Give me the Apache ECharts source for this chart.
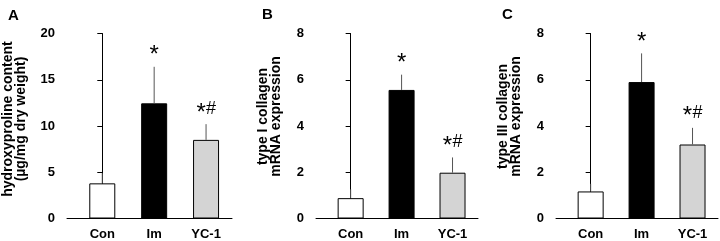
<!DOCTYPE html>
<html>
<head>
<meta charset="utf-8">
<script src="https://cdn.jsdelivr.net/npm/echarts@6/dist/echarts.min.js"></script>
<style>
	html, body { margin: 0; padding: 0; background: #fff; }
	#chart { width: 720px; height: 241px; }
</style>
</head>
<body>
<div id="chart"></div>
<script>
	// groups on the x axis
	const groups = ['Con', 'Im', 'YC-1']
	const barColors = ['#ffffff', '#000000', '#d4d4d4']
	const sigMarks = ['', '*', '*#']

	// A: hydroxyproline content (µg/mg dry weight)
	const hypMean = [3.8, 12.45, 8.5]
	const hypErr = [1.1, 3.95, 1.7]
	// B: type I collagen mRNA expression
	const col1Mean = [0.88, 5.56, 1.98]
	const col1Err = [0.38, 0.66, 0.66]
	// C: type III collagen mRNA expression
	const col3Mean = [1.17, 5.9, 3.2]
	const col3Err = [0.33, 1.24, 0.72]

	const font = 'Liberation Sans, Arial, sans-serif'

	const panels = [
		{ letter: 'A', name: 'hydroxyproline content\n(µg/mg dry weight)', mean: hypMean, err: hypErr, max: 20, step: 5, left: 67, width: 165, nameGap: 39, lift: 14 },
		{ letter: 'B', name: 'type I collagen\nmRNA expression', mean: col1Mean, err: col1Err, max: 8, step: 2, left: 316, width: 162, nameGap: 33, lift: 19 },
		{ letter: 'C', name: 'type III collagen\nmRNA expression', mean: col3Mean, err: col3Err, max: 8, step: 2, left: 556, width: 162, nameGap: 33, lift: 19 }
	]

	const chart = echarts.init(document.getElementById('chart'))

	const option = {
		animation: false,
		backgroundColor: '#fff',
		title: panels.map((p, i) => ({
			text: p.letter,
			left: [3, 257, 497][i],
			top: [3, 2, 2][i],
			textStyle: { fontFamily: font, fontWeight: 'bold', fontSize: 15, color: '#000' }
		})),
		grid: panels.map((p) => ({
			left: p.left,
			width: p.width,
			top: 33.5,
			height: 185
		})),
		xAxis: panels.map((p, i) => ({
			type: 'value',
			gridIndex: i,
			min: -0.68,
			max: 2.5,
			splitLine: { show: false },
			axisTick: { show: false },
			axisLine: { show: true, onZero: false, lineStyle: { color: '#000', width: 1 } },
			axisLabel: {
				customValues: [0, 1, 2],
				formatter: (v) => groups[v],
				margin: 9,
				color: '#000',
				fontFamily: font,
				fontWeight: 'bold',
				fontSize: 13
			}
		})),
		yAxis: panels.map((p, i) => ({
			type: 'value',
			gridIndex: i,
			min: 0,
			max: p.max,
			interval: p.step,
			name: p.name,
			nameLocation: 'middle',
			nameGap: p.nameGap,
			nameTextStyle: {
				fontFamily: font,
				fontWeight: 'bold',
				fontSize: 14,
				color: '#000',
				lineHeight: 13,
				padding: [0, 0, 0, p.lift]
			},
			splitLine: { show: false },
			axisLine: { show: true, lineStyle: { color: '#000', width: 1 } },
			axisTick: { show: true, length: 5, lineStyle: { color: '#000', width: 1 } },
			axisLabel: { margin: 12, color: '#000', fontFamily: font, fontWeight: 'bold', fontSize: 13 }
		})),
		series: []
	}

	const markText = (ch, x, y) => ({
		type: 'text',
		style: {
			text: ch,
			x: x,
			y: y,
			align: 'center',
			verticalAlign: 'bottom',
			fontFamily: font,
			fontSize: ch === '*' ? 24 : 18,
			lineHeight: 26,
			fill: '#000'
		}
	})

	panels.forEach((p, i) => {
		option.series.push({
			type: 'bar',
			xAxisIndex: i,
			yAxisIndex: i,
			barWidth: 26,
			data: p.mean.map((v, k) => ({
				value: [k, v],
				itemStyle: { color: barColors[k], borderColor: '#000', borderWidth: 1 }
			})),
			z: 2
		})
		// error bars (upper only) with significance marks
		option.series.push({
			type: 'custom',
			xAxisIndex: i,
			yAxisIndex: i,
			data: p.mean.map((v, k) => [k, v, v + p.err[k]]),
			z: 3,
			renderItem: (params, api) => {
				const base = api.coord([api.value(0), api.value(1)])
				const top = api.coord([api.value(0), api.value(2)])
				const children = [{
					type: 'line',
					shape: { x1: base[0], y1: base[1], x2: top[0], y2: top[1] },
					style: { stroke: '#555', lineWidth: 1 }
				}]
				const mark = sigMarks[params.dataIndex]
				if (mark === '*') {
					children.push(markText('*', top[0], top[1] + 2))
				} else if (mark === '*#') {
					children.push(markText('*', top[0] - 5, top[1] + 2))
					children.push(markText('#', top[0] + 5, top[1] - 2))
				}
				return { type: 'group', children: children }
			}
		})
	})

	chart.setOption(option)
	window.onresize = () => {
		chart.resize()
	}
</script>
</body>
</html>
